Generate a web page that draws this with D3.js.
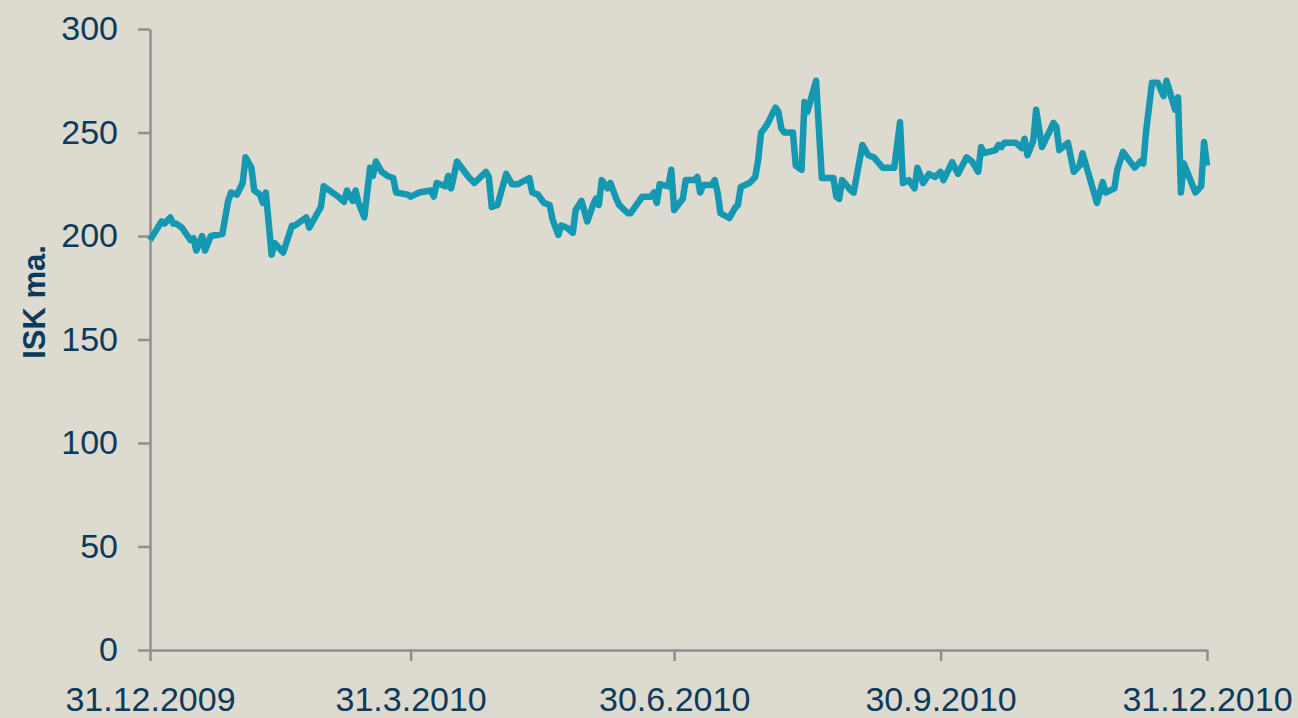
<!DOCTYPE html>
<html lang="is">
  <head>
    <meta charset="utf-8">
    <title>ISK ma.</title>
    <script src="https://d3js.org/d3.v7.min.js"></script>
    <style>
      body { margin: 0; background-color: #dddacf; }
      svg { display: block; }
      .axis text { font-family: "Liberation Sans", Arial, sans-serif; font-size: 34px; fill: #0c3a5d; }
      .axis path, .axis line { stroke: #8f8f8f; stroke-width: 2.5px; }
    </style>
  </head>
  <body>
    <div id="chart"></div>
    <script>
      var w = 1298;
      var h = 718;

      var dates = [
        "2009-12-31","2010-01-04","2010-01-05","2010-01-07","2010-01-08","2010-01-09","2010-01-11",
        "2010-01-13","2010-01-14","2010-01-15","2010-01-16","2010-01-18","2010-01-19","2010-01-21",
        "2010-01-25","2010-01-27","2010-01-28","2010-01-30","2010-02-01","2010-02-02","2010-02-04",
        "2010-02-05","2010-02-07","2010-02-08","2010-02-09","2010-02-11","2010-02-12","2010-02-15",
        "2010-02-18","2010-02-19","2010-02-23","2010-02-24","2010-02-28","2010-03-01","2010-03-04",
        "2010-03-06","2010-03-08","2010-03-09","2010-03-11","2010-03-12","2010-03-13","2010-03-15",
        "2010-03-17","2010-03-18","2010-03-19","2010-03-21","2010-03-23","2010-03-25","2010-03-26",
        "2010-03-30","2010-03-31","2010-04-03","2010-04-07","2010-04-08","2010-04-09","2010-04-12",
        "2010-04-13","2010-04-14","2010-04-16","2010-04-20","2010-04-22","2010-04-26","2010-04-27",
        "2010-04-28","2010-04-30","2010-05-03","2010-05-05","2010-05-07","2010-05-11","2010-05-12",
        "2010-05-14","2010-05-16","2010-05-18","2010-05-19","2010-05-21","2010-05-22","2010-05-24",
        "2010-05-26","2010-05-27","2010-05-29","2010-05-31","2010-06-02","2010-06-03","2010-06-04",
        "2010-06-05","2010-06-07","2010-06-08","2010-06-10","2010-06-11","2010-06-14","2010-06-15",
        "2010-06-19","2010-06-22","2010-06-23","2010-06-24","2010-06-25","2010-06-28","2010-06-29",
        "2010-06-30","2010-07-03","2010-07-04","2010-07-07","2010-07-08","2010-07-09","2010-07-10",
        "2010-07-13","2010-07-14","2010-07-15","2010-07-16","2010-07-19","2010-07-21","2010-07-22",
        "2010-07-23","2010-07-26","2010-07-28","2010-07-29","2010-07-30","2010-08-01","2010-08-04",
        "2010-08-05","2010-08-06","2010-08-07","2010-08-10","2010-08-11","2010-08-13","2010-08-14",
        "2010-08-15","2010-08-18","2010-08-20","2010-08-24","2010-08-25","2010-08-26","2010-08-27",
        "2010-08-30","2010-08-31","2010-09-03","2010-09-05","2010-09-07","2010-09-10","2010-09-14",
        "2010-09-16","2010-09-17","2010-09-19","2010-09-21","2010-09-22","2010-09-24","2010-09-26",
        "2010-09-28","2010-09-30","2010-10-01","2010-10-04","2010-10-06","2010-10-09","2010-10-11",
        "2010-10-13","2010-10-14","2010-10-15","2010-10-19","2010-10-20","2010-10-21","2010-10-22",
        "2010-10-25","2010-10-26","2010-10-28","2010-10-29","2010-10-30","2010-11-01","2010-11-02",
        "2010-11-04","2010-11-08","2010-11-09","2010-11-10","2010-11-13","2010-11-15","2010-11-17",
        "2010-11-18","2010-11-23","2010-11-25","2010-11-26","2010-11-29","2010-11-30","2010-12-02",
        "2010-12-06","2010-12-08","2010-12-09","2010-12-10","2010-12-12","2010-12-14","2010-12-16",
        "2010-12-17","2010-12-20","2010-12-21","2010-12-22","2010-12-23","2010-12-27","2010-12-29",
        "2010-12-30","2010-12-31"
      ];

      var values = [
        198,207,206,209,206,206,204,
        200,198,199,193,200,193,200,
        201,217,221,220,225.6,238,233,
        222,220,216,221,191,196.6,192,
        205,205,209,204,214,224,221,
        219,216.5,222,217,222,216,209,
        233,229,236,231,229,228,221,
        220,219,221,222,219,225.6,224,
        229,223,236,228.5,225.6,231,228.5,
        214,215,230,225,225,228,221,
        220,216,215,208,200.5,205,204,
        201.5,212.6,217,207,215,218,215,
        227,223,225.6,218,215,211,211,
        219,219,221,216,225,224,232,
        212.6,218,227,227,228.5,221,224.6,
        224.6,227,221,211,208.7,213.5,215,
        223.7,225.6,228.5,236.7,249.8,253.6,262,
        260,252,250,250,234,232,264.7,
        260,275,228,228,219,218,227,
        222,221,244,239,238,233,233,
        255,225.6,227,223,233,225.6,230,
        228.5,231,227,235.7,230,238,235.7,
        231,243,240,241.5,244,243,245,
        245,245,242.5,247,239,246,261,
        243,254.6,252.7,241.5,245,231,234,
        240,216,226,221,223,232,240.6,
        233,236,235,251,274,274,267.6,
        275,261,267,221,235,221,224,
        245.4,234
      ];

      var yTicks = [0, 50, 100, 150, 200, 250, 300];
      var xTicks = ["2009-12-31", "2010-03-31", "2010-06-30", "2010-09-30", "2010-12-31"];
      var yTitle = "ISK ma.";

      var parse = d3.timeParse("%Y-%m-%d");
      var fmt = d3.timeFormat("%-d.%-m.%Y");
      var data = dates.map(function(d, i) {
        return { date: parse(d), value: values[i] };
      });

      var svg = d3.select("#chart")
                  .append("svg")
                  .attr("width", w)
                  .attr("height", h);

      var x = d3.scaleTime()
                .domain([parse(xTicks[0]), parse(xTicks[xTicks.length - 1])])
                .range([150, 1207]);
      var y = d3.scaleLinear()
                .domain([0, 300])
                .range([650, 29]);

      // y axis
      svg.append("g")
         .attr("class", "axis")
         .attr("transform", "translate(150,0)")
         .call(d3.axisLeft(y).tickValues(yTicks).tickSize(12).tickPadding(20).tickSizeOuter(0));

      // x axis
      svg.append("g")
         .attr("class", "axis")
         .attr("transform", "translate(0,650)")
         .call(d3.axisBottom(x).tickValues(xTicks.map(parse)).tickFormat(fmt).tickSize(11).tickPadding(26).tickSizeOuter(0));

      svg.append("text")
         .attr("transform", "translate(45,302) rotate(-90)")
         .attr("text-anchor", "middle")
         .style("font-family", "'Liberation Sans', Arial, sans-serif")
         .style("font-size", "31px")
         .style("font-weight", "bold")
         .style("fill", "#0c3a5d")
         .text(yTitle);

      var line = d3.line()
                   .x(function(d) { return x(d.date); })
                   .y(function(d) { return y(d.value); });

      svg.append("path")
         .datum(data)
         .attr("d", line)
         .attr("fill", "none")
         .attr("stroke", "#1598b1")
         .attr("stroke-width", 6.5)
         .attr("stroke-linejoin", "round");
    </script>
  </body>
</html>
